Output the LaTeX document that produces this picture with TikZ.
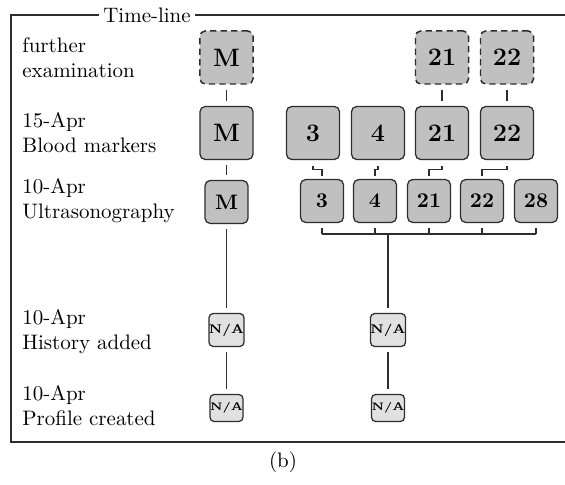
\documentclass[tikz,border=0pt]{standalone}
\usetikzlibrary{calc}
\definecolor{boxfill}{RGB}{192,192,192}
\definecolor{nafill}{RGB}{225,225,225}
\definecolor{edgecol}{RGB}{45,45,45}
\begin{document}
\begin{tikzpicture}[x=0.477pt,y=-0.477pt,
  box/.style={draw=edgecol,fill=boxfill,line width=0.6pt,rounded corners=2.5pt,inner sep=0pt,align=center},
  big/.style={box,minimum width=25.3pt,minimum height=25.3pt,font=\large\bfseries},
  mid/.style={box,minimum width=20.5pt,minimum height=20.5pt,font=\bfseries},
  plan/.style={dash pattern=on 3pt off 2pt,line width=0.7pt},
  na/.style={box,fill=nafill,rounded corners=2pt},
  naA/.style={na,minimum width=15.7pt,minimum height=15.7pt,font=\fontsize{6}{7}\selectfont\bfseries},
  naB/.style={na,minimum width=13.3pt,minimum height=12.9pt,font=\fontsize{5.2}{6}\selectfont\bfseries},
  rowlabel/.style={anchor=west,align=left,inner sep=0pt},
  link/.style={draw=edgecol,line width=0.5pt,shorten <=2.4pt,shorten >=2.4pt},
]
\useasboundingbox (0,0) rectangle (565,485);

% frame
\node[inner sep=2pt] (title) at (147,15) {Time-line};
\draw[edgecol,line width=0.5pt] (title.west) -- (11,15) -- (11,442) -- (580,442);
\draw[edgecol,line width=0.5pt] (title.east) -- (580,15);

% row labels
\node[rowlabel] (l1) at (22,58) {further\\examination};
\node[rowlabel] (l2) at (22,133) {15-Apr\\Blood markers};
\node[rowlabel] (l3) at (22,201) {10-Apr\\Ultrasonography};
\node[rowlabel] (l4) at (22,332) {10-Apr\\History added};
\node[rowlabel] (l5) at (22,406) {10-Apr\\Profile created};

% further examination
\node[big,plan] (fM) at (226.5,57.5) {M};
\node[big,plan] (f21) at (442,57.5) {21};
\node[big,plan] (f22) at (507,57.5) {22};

% blood markers
\node[big] (bM) at (226.5,133) {M};
\node[big] (b3) at (313,133) {3};
\node[big] (b4) at (378,133) {4};
\node[big] (b21) at (442,133) {21};
\node[big] (b22) at (507,133) {22};

% ultrasonography
\node[mid] (uM) at (226.5,202) {M};
\node[mid] (u3) at (322,201) {3};
\node[mid] (u4) at (375,201) {4};
\node[mid] (u21) at (429,201) {21};
\node[mid] (u22) at (482,201) {22};
\node[mid] (u28) at (536,201) {28};

% history / profile
\node[naA] (hA) at (226.5,330) {N/A};
\node[naA] (hB) at (388,330) {N/A};
\node[naB] (pA) at (226.5,408) {N/A};
\node[naB] (pB) at (388,408) {N/A};

% links
\draw[link] (fM) -- (bM);
\draw[link] (f21) -- (b21);
\draw[link] (f22) -- (b22);
\draw[link] (bM) -- (uM);
\draw[link] (uM) -- (hA);
\draw[link] (hA) -- (pA);
\draw[link] (hB) -- (pB);

\foreach \a/\b in {b3/u3,b4/u4,b21/u21,b22/u22}{
  \draw[link,shorten <=2.9pt,shorten >=1.4pt] (\a.south) |- ($(\a.south)!.5!(\b.north)$) -| (\b.north);
}

\coordinate (bus) at (388,234);
\foreach \u in {u3,u4,u21,u22,u28}{
  \draw[link,shorten >=0pt] (\u.south) -- (\u.south |- bus);
}
\draw[link,shorten <=0pt,shorten >=0pt] (u3.south |- bus) -- (u28.south |- bus);
\draw[link,shorten <=0pt] (bus) -- (hB.north);

% caption
\node (cap) at (283,462) {(b)};
\end{tikzpicture}
\end{document}
